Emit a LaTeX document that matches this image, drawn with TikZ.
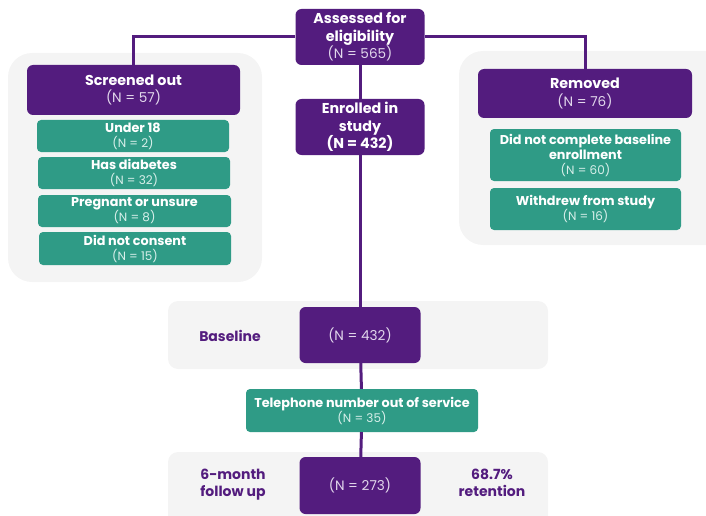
\documentclass[tikz,border=0pt]{standalone}
\usepackage{fontspec}
\setmainfont{Poppins}
\definecolor{purp}{HTML}{531C7E}
\definecolor{tealbox}{HTML}{2F9B86}
\definecolor{panelgray}{HTML}{F4F4F4}
\definecolor{nlight}{HTML}{E2D8EC}
\definecolor{glight}{HTML}{D8EFEA}
\newcommand{\pcount}[1]{{\color{nlight}\fontsize{13.6}{17.5}\selectfont #1}}
\newcommand{\gcount}[1]{{\color{glight}\fontsize{12}{15}\selectfont #1}}
\begin{document}
\begin{tikzpicture}[x=1pt,y=-1pt,
  panel/.style={fill=panelgray,rounded corners=24pt},
  band/.style={fill=panelgray,rounded corners=10pt},
  pbox/.style={fill=purp,rounded corners=6pt,text=white,align=center,inner sep=0pt,font=\fontsize{14.3}{17.5}\selectfont},
  gbox/.style={fill=tealbox,rounded corners=4pt,text=white,align=center,inner sep=0pt,font=\fontsize{12.8}{15}\selectfont},
  side/.style={text=purp,align=center,font=\bfseries\fontsize{14}{17}\selectfont},
  link/.style={draw=purp,line width=3pt}]
\useasboundingbox (0,0) rectangle (706,516);
\clip (0,0) rectangle (706,516);
% grey panels
\fill[panel] (8,53) rectangle (262,282);
\fill[panel] (459,51) rectangle (730,245);
\fill[band] (168,301) rectangle (548,369);
\fill[band] (168,452) rectangle (548,530);
% top of the flow
\node[pbox,minimum width=129pt,minimum height=56pt] (assess) at (360,37) {\textbf{Assessed for}\\\textbf{eligibility}\\\pcount{(N = 565)}};
\node[pbox,minimum width=129pt,minimum height=56pt] (enrol) at (360,127) {\textbf{Enrolled in}\\\textbf{study}\\\textbf{(N = 432)}};
% screened out
\node[pbox,minimum width=213pt,minimum height=50pt] (screened) at (133.5,90) {\textbf{Screened out}\\\pcount{(N = 57)}};
\node[gbox,minimum width=192pt,minimum height=32pt] (under) at (133,136) {\textbf{Under 18}\\\gcount{(N = 2)}};
\node[gbox,minimum width=192pt,minimum height=32pt] (diab) at (134,173) {\textbf{Has diabetes}\\\gcount{(N = 32)}};
\node[gbox,minimum width=193pt,minimum height=32pt] (preg) at (134.5,211) {\textbf{Pregnant or unsure}\\\gcount{(N = 8)}};
\node[gbox,minimum width=192pt,minimum height=33pt] (consent) at (135,248.5) {\textbf{Did not consent}\\\gcount{(N = 15)}};
% removed
\node[pbox,minimum width=214pt,minimum height=49pt] (removed) at (585,93.5) {\textbf{Removed}\\\pcount{(N = 76)}};
\node[gbox,minimum width=191pt,minimum height=52pt] (baseinc) at (585.5,155) {\textbf{Did not complete baseline}\\\textbf{enrollment}\\\gcount{(N = 60)}};
\node[gbox,minimum width=191pt,minimum height=42pt] (withdrew) at (585.5,209) {\textbf{Withdrew from study}\\\gcount{(N = 16)}};
% baseline and follow up
\node[pbox,minimum width=121pt,minimum height=56pt] (base) at (360,335) {\pcount{(N = 432)}};
\node[side] (baselbl) at (230,336) {Baseline};
\node[gbox,minimum width=232pt,minimum height=43pt] (phone) at (362,410.5) {\textbf{Telephone number out of service}\\\gcount{(N = 35)}};
\node[pbox,minimum width=121pt,minimum height=57pt] (follow) at (360,485.5) {\pcount{(N = 273)}};
\node[side] (fulbl) at (233,485) {6-month\\follow up};
\node[side] (retlbl) at (492,483) {68.7\%\\retention};
% connectors
\draw[link] (assess.west) -| (screened.north);
\draw[link] (assess.east) -| (removed.north);
\draw[link] (assess) -- (enrol);
\draw[link] (enrol) -- (base);
\draw[link] (base) -- (phone);
\draw[link] (phone) -- (follow);
\end{tikzpicture}
\end{document}
